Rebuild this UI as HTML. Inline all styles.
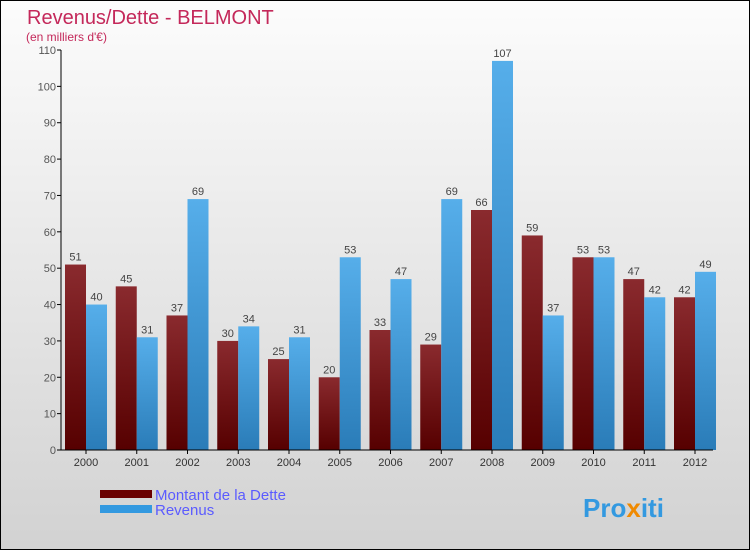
<!DOCTYPE html>
<html><head><meta charset="utf-8"><style>
html,body{margin:0;padding:0}
body{width:750px;height:550px;overflow:hidden;font-family:"Liberation Sans",sans-serif}
#wrap{position:relative;width:748px;height:548px;border:1px solid #000;background:linear-gradient(#fcfcfc,#d2d2d2)}
</style></head><body>
<div id="wrap">
<svg id="chart" width="748" height="548" xmlns="http://www.w3.org/2000/svg" style="position:absolute;left:0;top:0">
<defs>
<linearGradient id="gr" x1="0" y1="0" x2="0" y2="1"><stop offset="0" stop-color="#8a2a2e"/><stop offset="1" stop-color="#560000"/></linearGradient>
<linearGradient id="gb" x1="0" y1="0" x2="0" y2="1"><stop offset="0" stop-color="#56aeea"/><stop offset="1" stop-color="#2a7cb8"/></linearGradient>
</defs>
<text x="26" y="23" font-size="20" fill="#c4285a">Revenus/Dette - BELMONT</text>
<text x="25" y="40" font-size="12" fill="#c4285a">(en milliers d'€)</text>
<g id="g"></g>
<rect x="99" y="489" width="52" height="8" fill="#6a0000"/>
<rect x="99" y="504" width="52" height="8" fill="#3399e0"/>
<text x="154" y="499" font-size="15" fill="#5b5bff">Montant de la Dette</text>
<text x="154" y="514" font-size="15" fill="#5b5bff">Revenus</text>
<text x="582" y="516" font-size="26" font-weight="bold" fill="#3399e0">Pro<tspan fill="#f08a00">x</tspan>iti</text>
</svg>
</div>
<script>
const years=["2000","2001","2002","2003","2004","2005","2006","2007","2008","2009","2010","2011","2012"];
const dette=[51,45,37,30,25,20,33,29,66,59,53,47,42];
const revenus=[40,31,69,34,31,53,47,69,107,37,53,42,49];
const ticks=[0,10,20,30,40,50,60,70,80,90,100,110];
const NS="http://www.w3.org/2000/svg";
const g=document.getElementById("g");
const x0=60,y0=449,yTop=49,maxV=110;
const step=50.75,bw=21;
function y(v){return y0-(v/maxV)*(y0-yTop);}
function cx(i){return 85+i*step;}
function mk(t,a){const e=document.createElementNS(NS,t);for(const k in a)e.setAttribute(k,a[k]);g.appendChild(e);return e;}
ticks.forEach(t=>{
 const l=mk("line",{x1:x0-4,x2:x0,y1:y(t),y2:y(t),stroke:"#000"});
 
 
 const tx=mk("text",{x:x0-5,y:y(t)+4,"font-size":11,fill:"#555","text-anchor":"end"});
 tx.textContent=t;
 
 
});
years.forEach((yr,i)=>{
 const c=cx(i);
 const r=mk("rect",{x:c-bw,y:y(dette[i]),width:bw,height:y0-y(dette[i]),fill:"url(#gr)"});
 
 
 const b=mk("rect",{x:c,y:y(revenus[i]),width:bw,height:y0-y(revenus[i]),fill:"url(#gb)"});
 
 
 const t1=mk("text",{x:c-bw/2,y:y(dette[i])-4,"font-size":11,fill:"#444","text-anchor":"middle"});
 t1.textContent=dette[i];
 
 
 const t2=mk("text",{x:c+bw/2,y:y(revenus[i])-4,"font-size":11,fill:"#444","text-anchor":"middle"});
 t2.textContent=revenus[i];
 
 
 const tk=mk("line",{x1:c,x2:c,y1:y0,y2:y0+4,stroke:"#000"});
 
 
 const xl=mk("text",{x:c,y:y0+16,"font-size":11,fill:"#333","text-anchor":"middle"});
 xl.textContent=yr;
 
 
});
const ax=mk("line",{x1:x0,x2:x0,y1:yTop,y2:y0,stroke:"#000"});


const bx=mk("line",{x1:x0,x2:712,y1:y0,y2:y0,stroke:"#000"});


</script>
</body></html>
